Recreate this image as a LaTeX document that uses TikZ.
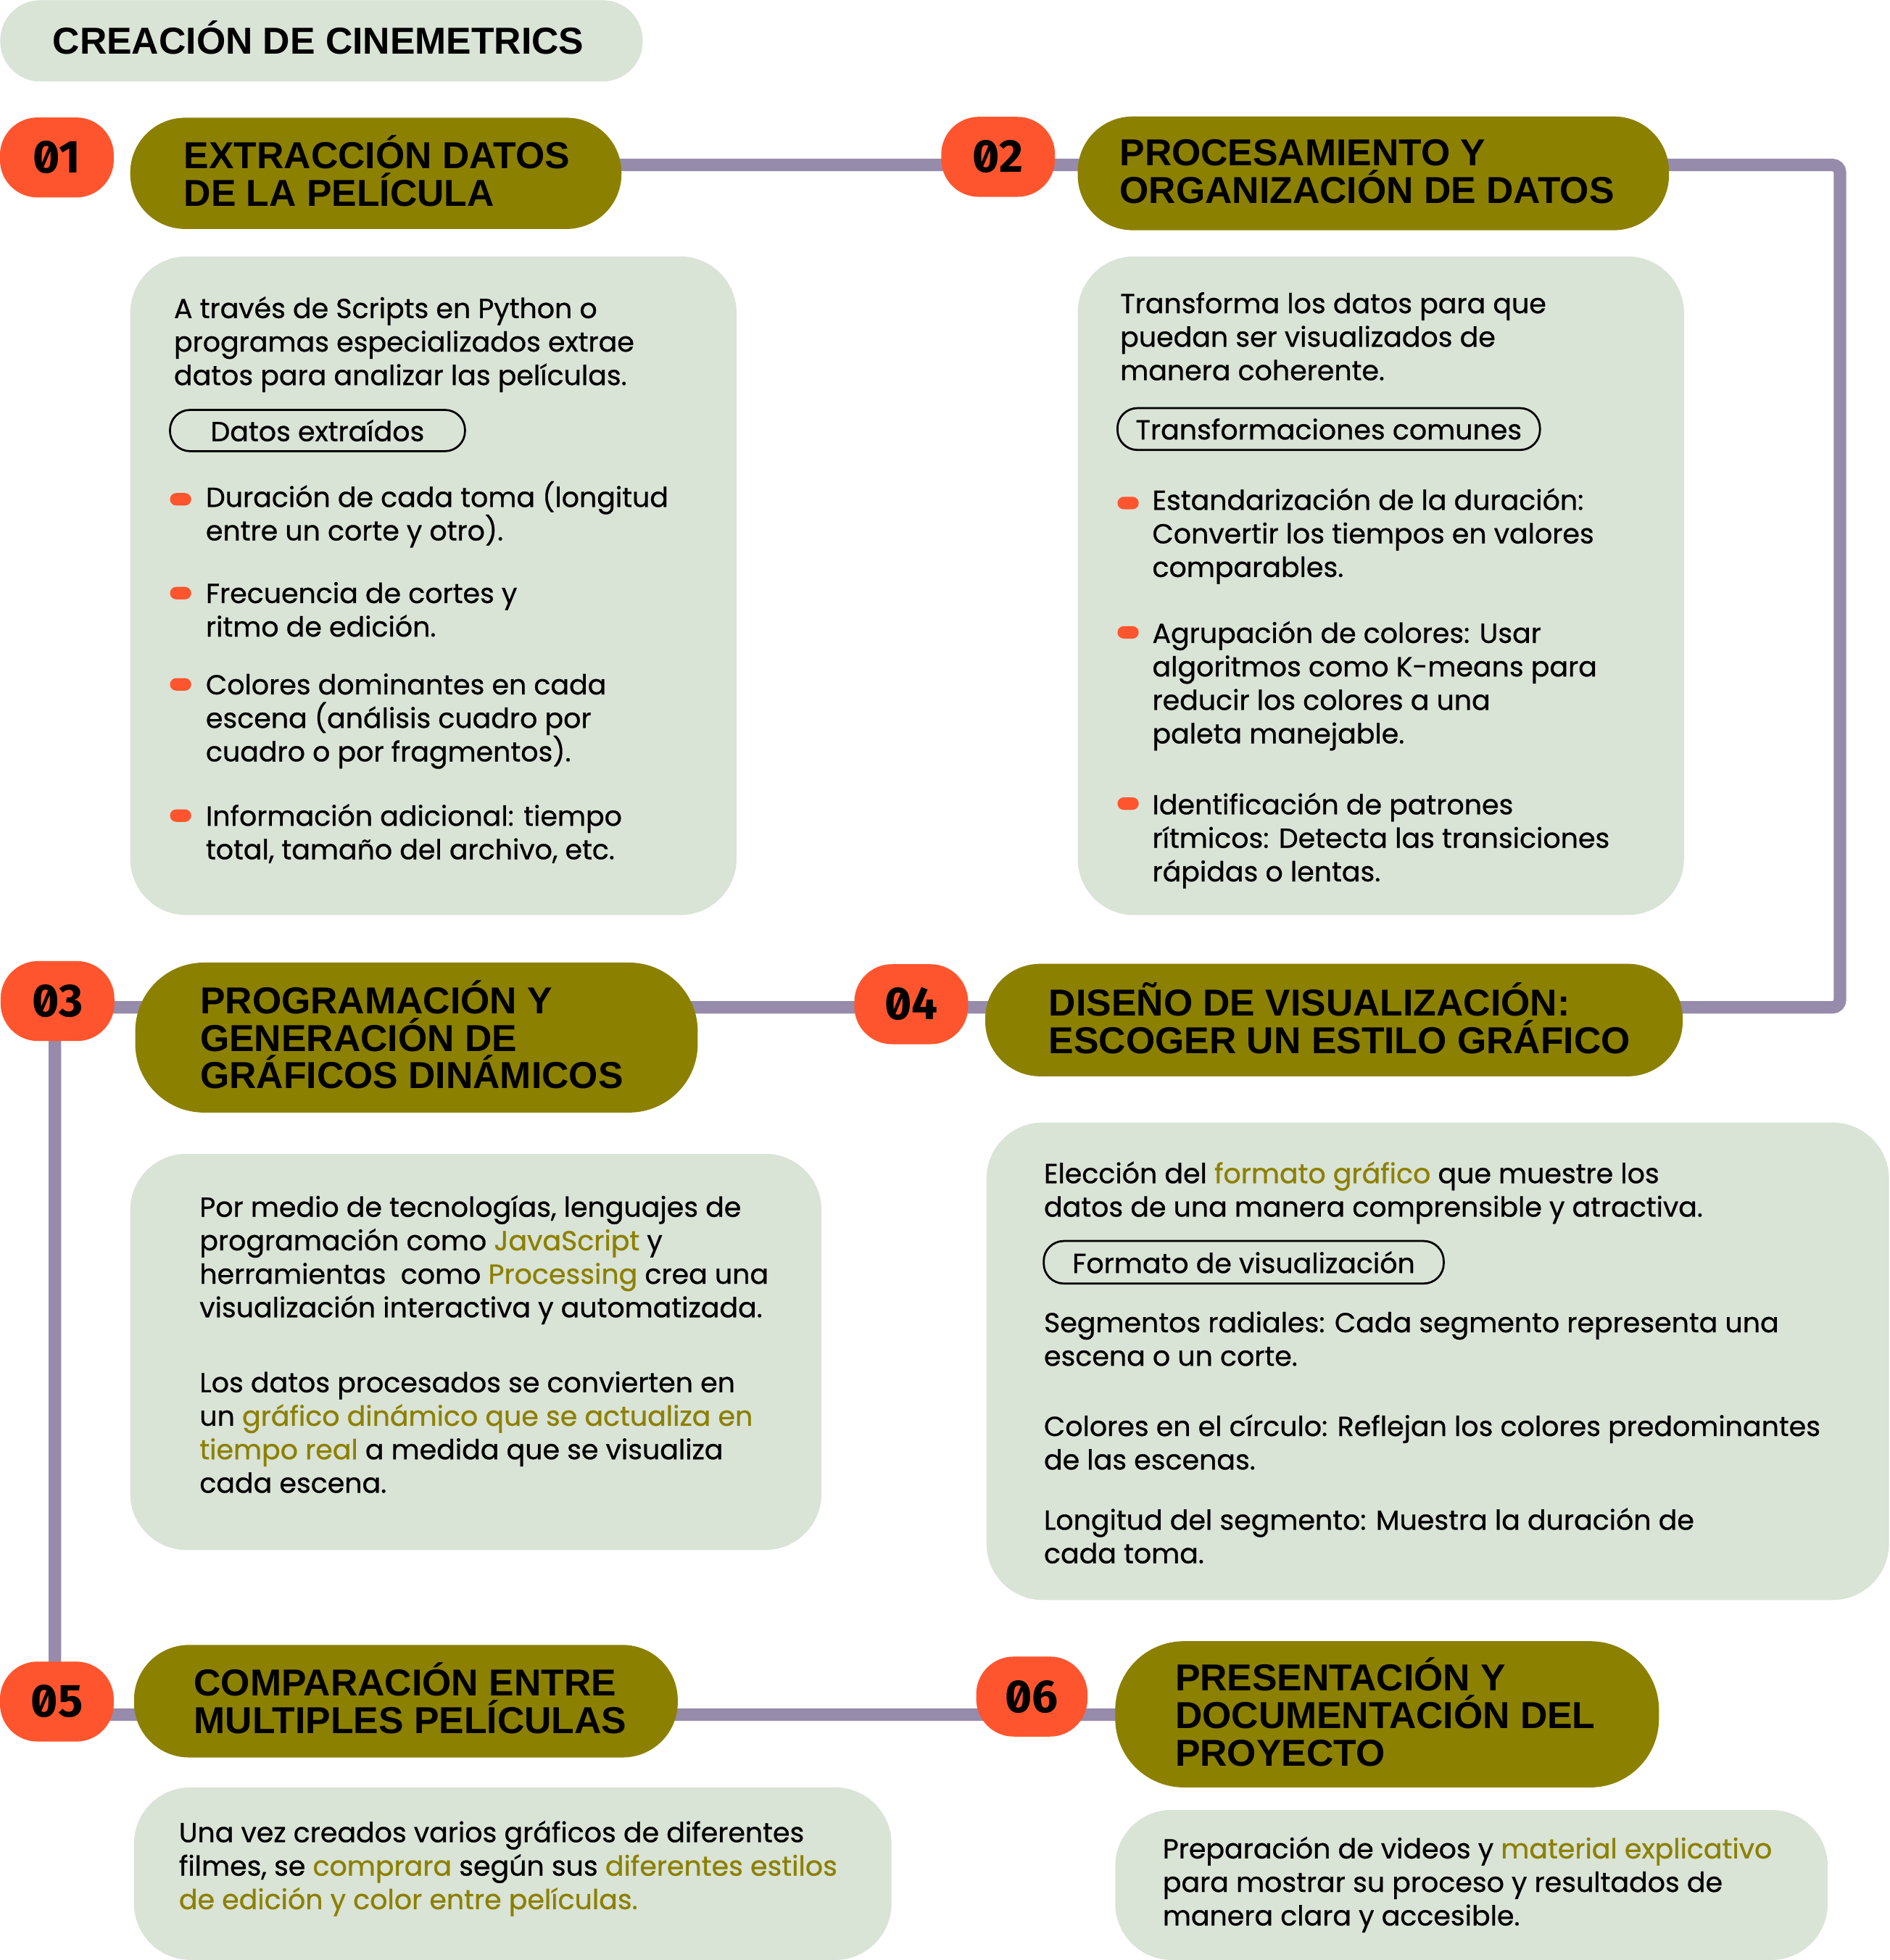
\documentclass[tikz,border=0pt]{standalone}
\usepackage{fontspec}
\usetikzlibrary{backgrounds}
\setmainfont{Poppins}
\newfontfamily\bodyfont{Poppins}[FakeBold=0.7]
\newfontfamily\headfont{Liberation Sans}
\newfontfamily\numfont{Fira Sans}[RawFeature=+zero]
\definecolor{orangeC}{HTML}{FF552E}
\definecolor{oliveC}{HTML}{8C8000}
\definecolor{paleC}{HTML}{D9E3D6}
\definecolor{lineC}{HTML}{978BAB}
\newcommand{\hl}[1]{\textcolor{oliveC}{#1}}
\tikzset{
  numpill/.style={fill=orangeC, rounded corners=30, minimum width=91, minimum height=64, inner sep=0,
    font=\numfont\bfseries\fontsize{37}{37}\selectfont},
  headpill/.style={fill=oliveC, rounded corners=44, anchor=north west, inner sep=0},
  notebox/.style={fill=paleC, rounded corners=45, anchor=north west, inner sep=0},
  tagpill/.style={draw=black, line width=1.6, rounded corners=16, inner sep=0,
    font=\bodyfont\fontsize{22}{26.8}\selectfont},
  dotmark/.style={fill=orangeC, rounded corners=5, minimum width=17, minimum height=10, inner sep=0},
  conn/.style={draw=lineC, line width=10, rounded corners=6},
  headtxt/.style={font=\headfont\bfseries\fontsize{30}{30}\selectfont, align=left, anchor=base west, inner sep=0},
  bodytxt/.style={font=\bodyfont\fontsize{22}{26.8}\selectfont, align=left, anchor=base west, inner sep=0},
}
\begin{document}
\begin{tikzpicture}[x=1pt,y=-1pt]
\useasboundingbox (0,0) rectangle (1512,1568.3);
\clip (0,0) rectangle (1512,1568.3);

% title
\node[fill=paleC, rounded corners=32, minimum width=514, minimum height=65, anchor=north west, inner sep=0] (title) at (0,0) {};
\node[headtxt] (titletxt) at (42,43) {CREACIÓN DE CINEMETRICS};

% heading pills
\node[headpill, minimum width=393, minimum height=89] (h1) at (104,94) {};
\node[headpill, minimum width=473, minimum height=91] (h2) at (862,93) {};
\node[headpill, rounded corners=55, minimum width=450, minimum height=120] (h3) at (108,770) {};
\node[headpill, minimum width=558, minimum height=90] (h4) at (788,771) {};
\node[headpill, minimum width=435, minimum height=90] (h5) at (107,1316) {};
\node[headpill, rounded corners=55, minimum width=435, minimum height=117] (h6) at (892,1313) {};

% heading texts (anchor = baseline of last line)
\node[headtxt] (t1) at (147,165) {EXTRACCIÓN DATOS\\DE LA PELÍCULA};
\node[headtxt] (t2) at (895.6,162.5) {PROCESAMIENTO Y\\ORGANIZACIÓN DE DATOS};
\node[headtxt] (t3) at (160,871) {PROGRAMACIÓN Y\\GENERACIÓN DE\\GRÁFICOS DINÁMICOS};
\node[headtxt] (t4) at (839,843) {DISEÑO DE VISUALIZACIÓN:\\ESCOGER UN ESTILO GRÁFICO};
\node[headtxt] (t5) at (155,1387) {COMPARACIÓN ENTRE\\MULTIPLES PELÍCULAS};
\node[headtxt] (t6) at (940,1413) {PRESENTACIÓN Y\\DOCUMENTACIÓN DEL\\PROYECTO};

% number pills
\node[numpill] (n1) at (45.5,126) {01};
\node[numpill] (n2) at (798.5,125.5) {02};
\node[numpill] (n3) at (46,801) {03};
\node[numpill] (n4) at (729,803.5) {04};
\node[numpill] (n5) at (45.5,1361.5) {05};
\node[numpill, minimum width=89] (n6) at (825.5,1357.5) {06};

% note boxes
\node[notebox, minimum width=485, minimum height=527] (b1) at (104,205) {};
\node[notebox, minimum width=485, minimum height=527] (b2) at (862,205) {};
\node[notebox, minimum width=553, minimum height=317] (b3) at (104,923) {};
\node[notebox, minimum width=722, minimum height=382] (b4) at (789,898) {};
\node[notebox, minimum width=606, minimum height=138] (b5) at (107,1430) {};
\node[notebox, minimum width=570, minimum height=120] (b6) at (892,1448) {};

% box 1
\node[bodytxt] (p1) at (139,308.1) {A través de Scripts en Python o\\programas especializados extrae\\datos para analizar las películas.};
\node[tagpill, minimum width=236, minimum height=33] (g1) at (254,344.5) {Datos extraídos};
\node[dotmark] (d11) at (144.5,399.5) {};
\node[dotmark] (d12) at (144.5,474.6) {};
\node[dotmark] (d13) at (144.5,547.6) {};
\node[dotmark] (d14) at (144.5,652.6) {};
\node[bodytxt] (e11) at (164.5,432.4) {Duración de cada toma (longitud\\entre un corte y otro).};
\node[bodytxt] (e12) at (164.5,509.3) {Frecuencia de cortes y\\ritmo de edición.};
\node[bodytxt] (e13) at (164.5,609.2) {Colores dominantes en cada\\escena (análisis cuadro por\\cuadro o por fragmentos).};
\node[bodytxt] (e14) at (164.5,687.5) {Información adicional: tiempo\\total, tamaño del archivo, etc.};

% box 2
\node[bodytxt] (p2) at (896,304.2) {Transforma los datos para que\\puedan ser visualizados de\\manera coherente.};
\node[tagpill, minimum width=338, minimum height=33.5] (g2) at (1063,343.3) {Transformaciones comunes};
\node[dotmark] (d21) at (902.5,402.5) {};
\node[dotmark] (d22) at (902.5,506) {};
\node[dotmark] (d23) at (902.5,643) {};
\node[bodytxt] (e21) at (921.7,461.6) {Estandarización de la duración:\\Convertir los tiempos en valores\\comparables.};
\node[bodytxt] (e22) at (921.7,594.8) {Agrupación de colores: Usar\\algoritmos como K-means para\\reducir los colores a una\\paleta manejable.};
\node[bodytxt] (e23) at (921.7,705.2) {Identificación de patrones\\rítmicos: Detecta las transiciones\\rápidas o lentas.};

% box 3
\node[bodytxt] (p31) at (159.5,1054) {Por medio de tecnologías, lenguajes de\\programación como \hl{JavaScript} y\\herramientas\ \ como \hl{Processing} crea una\\visualización interactiva y automatizada.};
\node[bodytxt] (p32) at (159.5,1194.4) {Los datos procesados se convierten en\\un \hl{gráfico dinámico que se actualiza en}\\\hl{tiempo real} a medida que se visualiza\\cada escena.};

% box 4
\node[bodytxt] (p41) at (835,973.5) {Elección del \hl{formato gráfico} que muestre los\\datos de una manera comprensible y atractiva.};
\node[tagpill, minimum width=320, minimum height=34] (g4) at (995,1010) {Formato de visualización};
\node[bodytxt] (p42) at (835,1092.8) {Segmentos radiales: Cada segmento representa una\\escena o un corte.};
\node[bodytxt] (p43) at (835,1175.8) {Colores en el círculo: Reflejan los colores predominantes\\de las escenas.};
\node[bodytxt] (p44) at (835,1250.8) {Longitud del segmento: Muestra la duración de\\cada toma.};

% box 5
\node[bodytxt] (p5) at (143,1527.6) {Una vez creados varios gráficos de diferentes\\filmes, se \hl{comprara} según sus \hl{diferentes estilos}\\\hl{de edición y color entre películas.}};

% box 6
\node[bodytxt] (p6) at (930,1540.6) {Preparación de videos y \hl{material explicativo}\\para mostrar su proceso y resultados de\\manera clara y accesible.};

% connector
\coordinate (c1) at (1472,132);
\coordinate (c2) at (1472,806);
\coordinate (c3) at (44,806);
\coordinate (c4) at (44,1372);
\begin{scope}[on background layer]
\draw[conn] (h1 |- c1) -- (c1) -- (c2) -- (c3) -- (c4) -- (h6 |- c4);
\end{scope}
\end{tikzpicture}
\end{document}
